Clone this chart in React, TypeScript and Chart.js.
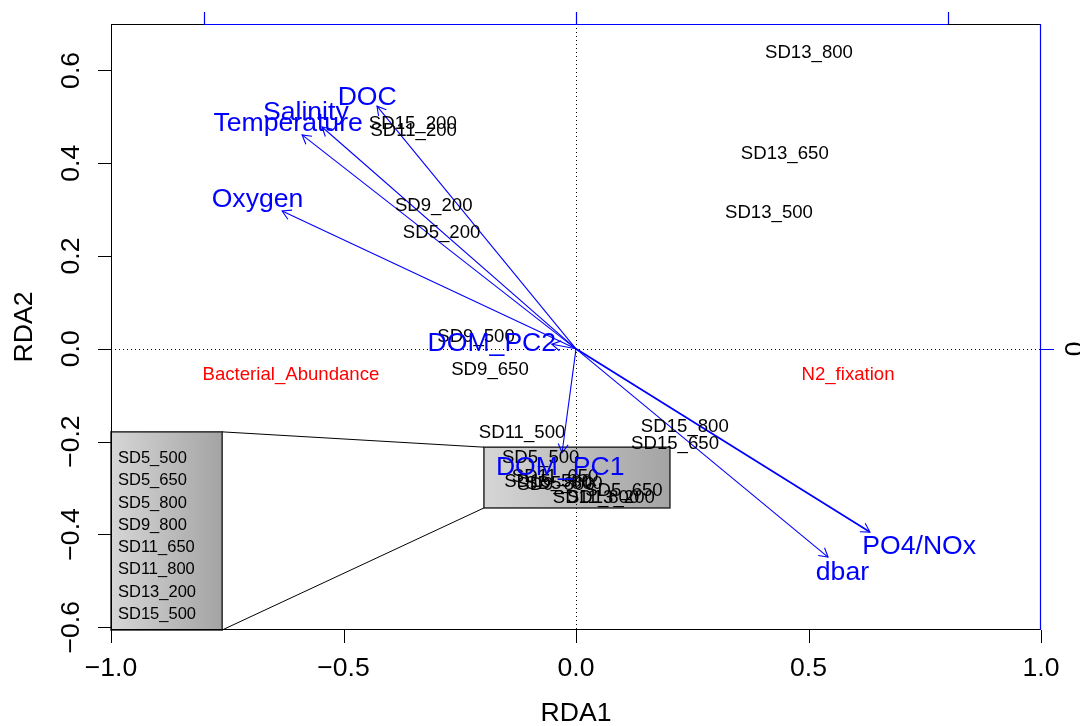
import React, { useEffect, useRef } from "react";
import { Chart, registerables } from "chart.js";

Chart.register(...registerables);

// ---------- axis ticks ----------
const xTicks = [-1, -0.5, 0, 0.5, 1];
const xTickLabels = ["−1.0", "−0.5", "0.0", "0.5", "1.0"];
const yTicks = [-0.6, -0.4, -0.2, 0, 0.2, 0.4, 0.6];
const yTickLabels = ["−0.6", "−0.4", "−0.2", "0.0", "0.2", "0.4", "0.6"];
const topTicks = [-0.8, 0, 0.8];
const rightTicks = [0];
const rightTickLabels = ["0"];
const xTitle = "RDA1";
const yTitle = "RDA2";

// ---------- site scores ----------
const siteNames = [
  "SD13_800", "SD13_650", "SD13_500", "SD15_200", "SD11_200", "SD9_200", "SD5_200",
  "SD9_500", "SD9_650", "SD11_500", "SD15_800", "SD15_650", "SD5_500", "SD11_650",
  "SD5_800", "SD9_800", "SD15_500", "SD5_650", "SD13_200", "SD11_800",
];
const siteX = [
  0.501, 0.449, 0.415, -0.351, -0.349, -0.306, -0.289,
  -0.215, -0.185, -0.116, 0.234, 0.213, -0.076, -0.045,
  -0.026, -0.043, -0.06, 0.103, 0.075, 0.043,
];
const siteY = [
  0.64, 0.424, 0.297, 0.487, 0.472, 0.312, 0.254,
  0.03, -0.043, -0.177, -0.166, -0.201, -0.231, -0.272,
  -0.287, -0.291, -0.283, -0.304, -0.319, -0.319,
];

// ---------- environmental vectors ----------
const envNames = ["DOC", "Salinity", "Temperature", "Oxygen", "DOM_PC2", "DOM_PC1", "PO4/NOx", "dbar"];
const envArrowX = [-0.428, -0.546, -0.589, -0.632, -0.052, -0.03, 0.632, 0.542];
const envArrowY = [0.523, 0.478, 0.461, 0.297, 0.01, -0.224, -0.395, -0.449];
const envLabelX = [-0.449, -0.581, -0.619, -0.685, -0.181, -0.034, 0.738, 0.573];
const envLabelY = [0.545, 0.513, 0.489, 0.325, 0.015, -0.252, -0.423, -0.479];

// ---------- passive factors ----------
const factorNames = ["Bacterial_Abundance", "N2_fixation"];
const factorX = [-0.613, 0.585];
const factorY = [-0.052, -0.052];

// ---------- zoom inset ----------
const insetNames = ["SD5_500", "SD5_650", "SD5_800", "SD9_800", "SD11_650", "SD11_800", "SD13_200", "SD15_500"];
const zoomBoxX = [-0.198, 0.202];
const zoomBoxY = [-0.212, -0.343];
const insetBoxX = [-1.0, -0.761];
const insetBoxY = [-0.179, -0.606];

const FONT = '"Liberation Sans", Arial, Helvetica, sans-serif';
const BLUE = "#0000ff";
const TXT_DY = 1.5;

function font(px: number) {
  return `${px}px ${FONT}`;
}

const rdaPlugin = {
  id: "rdaPlugin",
  beforeDatasetsDraw(chart: any) {
    const { ctx, chartArea } = chart;
    const xs = chart.scales.x;
    const ys = chart.scales.y;
    ctx.save();

    const drawBox = (bx: number[], by: number[]) => {
      const l = xs.getPixelForValue(bx[0]);
      const r = xs.getPixelForValue(bx[1]);
      const t = ys.getPixelForValue(by[0]);
      const b = ys.getPixelForValue(by[1]);
      const g = ctx.createLinearGradient(l, 0, r, 0);
      g.addColorStop(0, "#d6d6d6");
      g.addColorStop(1, "#a4a4a4");
      ctx.fillStyle = g;
      ctx.fillRect(l, t, r - l, b - t);
      ctx.strokeStyle = "#2a2a2a";
      ctx.lineWidth = 1.5;
      ctx.strokeRect(l, t, r - l, b - t);
      return { l, r, t, b };
    };

    const big = drawBox(insetBoxX, insetBoxY);
    const small = drawBox(zoomBoxX, zoomBoxY);

    // connector lines
    ctx.strokeStyle = "#000";
    ctx.lineWidth = 1;
    ctx.beginPath();
    ctx.moveTo(big.r, big.t);
    ctx.lineTo(small.l, small.t);
    ctx.moveTo(big.r, big.b);
    ctx.lineTo(small.l, small.b);
    ctx.stroke();

    // dotted zero lines
    const x0 = xs.getPixelForValue(0);
    const y0 = ys.getPixelForValue(0);
    ctx.setLineDash([1, 3]);
    ctx.strokeStyle = "#000";
    ctx.lineWidth = 1;
    ctx.beginPath();
    ctx.moveTo(Math.round(x0) + 0.5, chartArea.top);
    ctx.lineTo(Math.round(x0) + 0.5, chartArea.bottom);
    ctx.moveTo(chartArea.left, Math.round(y0) + 0.5);
    ctx.lineTo(chartArea.right, Math.round(y0) + 0.5);
    ctx.stroke();
    ctx.setLineDash([]);

    // inset labels
    ctx.fillStyle = "#000";
    ctx.font = font(16.5);
    ctx.textAlign = "left";
    ctx.textBaseline = "middle";
    insetNames.forEach((n, i) => {
      ctx.fillText(n, big.l + 7, big.t + 25 + TXT_DY + i * 22.3);
    });
    ctx.restore();
  },
  afterDatasetsDraw(chart: any) {
    const { ctx } = chart;
    ctx.save();
    // arrowheads
    envNames.forEach((_, i) => {
      const meta = chart.getDatasetMeta(1 + i);
      const p0 = meta.data[0];
      const p1 = meta.data[1];
      const ang = Math.atan2(p1.y - p0.y, p1.x - p0.x);
      const len = 10;
      const spread = Math.PI / 6;
      ctx.strokeStyle = BLUE;
      ctx.lineWidth = 1.1;
      ctx.beginPath();
      ctx.moveTo(p1.x - len * Math.cos(ang - spread), p1.y - len * Math.sin(ang - spread));
      ctx.lineTo(p1.x, p1.y);
      ctx.lineTo(p1.x - len * Math.cos(ang + spread), p1.y - len * Math.sin(ang + spread));
      ctx.stroke();
    });

    ctx.textAlign = "center";
    ctx.textBaseline = "middle";

    // site labels
    const siteMeta = chart.getDatasetMeta(0);
    ctx.fillStyle = "#000";
    ctx.font = font(18.6);
    siteNames.forEach((n, i) => {
      const p = siteMeta.data[i];
      ctx.fillText(n, p.x, p.y + TXT_DY);
    });

    // factor labels
    const facMeta = chart.getDatasetMeta(1 + envNames.length);
    ctx.fillStyle = "#ff0000";
    ctx.font = font(18.6);
    factorNames.forEach((n, i) => {
      const p = facMeta.data[i];
      ctx.fillText(n, p.x, p.y + TXT_DY);
    });

    // env labels
    const labMeta = chart.getDatasetMeta(2 + envNames.length);
    ctx.fillStyle = BLUE;
    ctx.font = font(26.6);
    envNames.forEach((n, i) => {
      const p = labMeta.data[i];
      ctx.fillText(n, p.x, p.y + TXT_DY + 0.5);
    });
    ctx.restore();
  },
  afterDraw(chart: any) {
    const { ctx, chartArea } = chart;
    const xs = chart.scales.x;
    const ys = chart.scales.y;
    const { left, right, top, bottom } = chartArea;
    ctx.save();

    // plot frame
    ctx.strokeStyle = "#000";
    ctx.lineWidth = 1;
    ctx.strokeRect(left + 0.5, top + 0.5, right - left - 1, bottom - top - 1);

    // bottom axis
    ctx.fillStyle = "#000";
    ctx.font = font(26.6);
    ctx.textAlign = "center";
    ctx.textBaseline = "middle";
    ctx.beginPath();
    xTicks.forEach((v) => {
      const px = Math.round(xs.getPixelForValue(v)) + 0.5;
      ctx.moveTo(px, bottom);
      ctx.lineTo(px, bottom + 13);
    });
    ctx.stroke();
    xTicks.forEach((v, i) => {
      ctx.fillText(xTickLabels[i], xs.getPixelForValue(v), bottom + 39);
    });
    ctx.fillText(xTitle, (left + right) / 2, bottom + 84);

    // left axis
    ctx.beginPath();
    yTicks.forEach((v) => {
      const py = Math.round(ys.getPixelForValue(v)) + 0.5;
      ctx.moveTo(left, py);
      ctx.lineTo(left - 13, py);
    });
    ctx.stroke();
    yTicks.forEach((v, i) => {
      ctx.save();
      ctx.translate(left - 39, ys.getPixelForValue(v));
      ctx.rotate(-Math.PI / 2);
      ctx.fillText(yTickLabels[i], 0, 0);
      ctx.restore();
    });
    ctx.save();
    ctx.translate(left - 86, (top + bottom) / 2);
    ctx.rotate(-Math.PI / 2);
    ctx.fillText(yTitle, 0, 0);
    ctx.restore();

    // top axis (blue)
    ctx.strokeStyle = BLUE;
    ctx.lineWidth = 1.2;
    ctx.beginPath();
    const tl = xs.getPixelForValue(topTicks[0]);
    const tr = xs.getPixelForValue(topTicks[topTicks.length - 1]);
    ctx.moveTo(tl, top + 0.5);
    ctx.lineTo(tr, top + 0.5);
    topTicks.forEach((v) => {
      const px = Math.round(xs.getPixelForValue(v)) + 0.5;
      ctx.moveTo(px, top);
      ctx.lineTo(px, top - 12);
    });
    ctx.stroke();

    // right axis (blue)
    ctx.beginPath();
    ctx.moveTo(right - 0.5, top);
    ctx.lineTo(right - 0.5, bottom);
    rightTicks.forEach((v) => {
      const py = Math.round(ys.getPixelForValue(v)) + 0.5;
      ctx.moveTo(right, py);
      ctx.lineTo(right + 13, py);
    });
    ctx.stroke();
    ctx.fillStyle = "#000";
    rightTicks.forEach((v, i) => {
      ctx.save();
      ctx.translate(right + 35, ys.getPixelForValue(v));
      ctx.rotate(-Math.PI / 2);
      ctx.fillText(rightTickLabels[i], 0, 0);
      ctx.restore();
    });
    ctx.restore();
  },
};

export default function App() {
  const canvasRef = useRef<HTMLCanvasElement | null>(null);

  useEffect(() => {
    const canvas = canvasRef.current;
    if (!canvas) return;

    const datasets: any[] = [];
    datasets.push({
      label: "sites",
      data: siteNames.map((_, i) => ({ x: siteX[i], y: siteY[i] })),
      pointRadius: 0,
      showLine: false,
    });
    envNames.forEach((n, i) => {
      datasets.push({
        label: n,
        data: [
          { x: 0, y: 0 },
          { x: envArrowX[i], y: envArrowY[i] },
        ],
        showLine: true,
        borderColor: BLUE,
        borderWidth: n === "PO4/NOx" ? 1.8 : 1.1,
        pointRadius: 0,
        fill: false,
      });
    });
    datasets.push({
      label: "factors",
      data: factorNames.map((_, i) => ({ x: factorX[i], y: factorY[i] })),
      pointRadius: 0,
      showLine: false,
    });
    datasets.push({
      label: "envLabels",
      data: envNames.map((_, i) => ({ x: envLabelX[i], y: envLabelY[i] })),
      pointRadius: 0,
      showLine: false,
    });

    const chart = new Chart(canvas, {
      type: "scatter",
      data: { datasets },
      options: {
        animation: false,
        responsive: false,
        devicePixelRatio: 1,
        events: [],
        layout: { padding: { left: 111, right: 39, top: 24, bottom: 96 } },
        scales: {
          x: { type: "linear", min: -1, max: 1, display: false },
          y: { type: "linear", min: -0.606, max: 0.7, display: false },
        },
        plugins: {
          legend: { display: false },
          tooltip: { enabled: false },
        },
      },
      plugins: [rdaPlugin],
    } as any);

    return () => chart.destroy();
  }, []);

  return (
    <div style={{ position: "fixed", left: 0, top: 0, width: 1080, height: 726, background: "#fff" }}>
      <canvas ref={canvasRef} width={1080} height={726} style={{ display: "block" }} />
    </div>
  );
}
